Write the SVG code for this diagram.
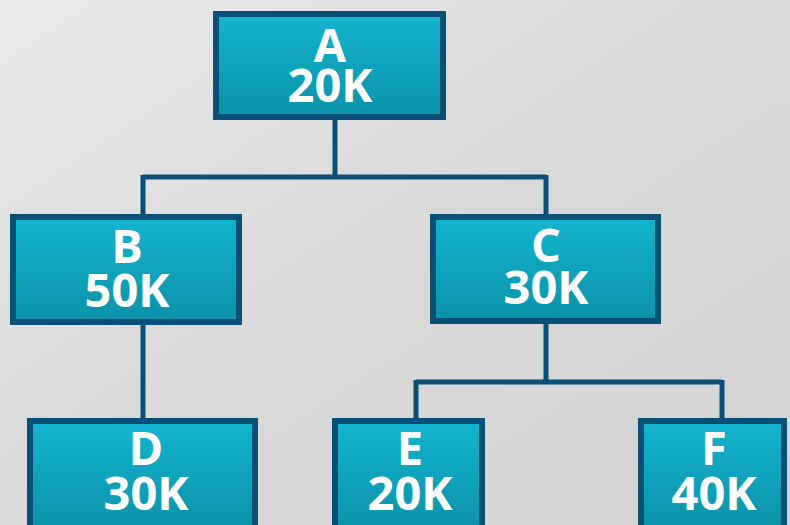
<svg xmlns="http://www.w3.org/2000/svg" width="790" height="525" viewBox="0 0 790 525">
<defs>
<linearGradient id="bg" x1="0" y1="0" x2="1" y2="1">
<stop offset="0" stop-color="#e9e9e9"/>
<stop offset="0.5" stop-color="#d9d9d9"/>
<stop offset="1" stop-color="#d4d4d4"/>
</linearGradient>
<linearGradient id="nf" x1="0" y1="0" x2="0" y2="1">
<stop offset="0" stop-color="#14b4cf"/>
<stop offset="1" stop-color="#0a92a8"/>
</linearGradient>
</defs>
<style>
.n{fill:url(#nf);stroke:#0a5076;stroke-width:6}
.t{fill:#fff;font-family:"Open Sans","DejaVu Sans",sans-serif;font-weight:bold;font-size:47px;text-anchor:middle}
.c{fill:none;stroke:#0a5076;stroke-width:5}
</style>
<rect width="790" height="525" fill="url(#bg)"/>
<g id="connectors">
<path class="c" d="M335 119V177M143 177H546M143 175V214M546 175V214"/>
<path class="c" d="M143 325V418"/>
<path class="c" d="M546 323V382M416 382H722M416 380V418M722 380V418"/>
</g>
<g id="A"><rect class="n" x="216" y="14" width="227" height="103"/><text class="t" x="330" y="62">A<tspan x="330" dy="40">20K</tspan></text></g>
<g id="B"><rect class="n" x="13" y="217" width="226" height="105"/><text class="t" x="127" y="263">B<tspan x="127" dy="44">50K</tspan></text></g>
<g id="C"><rect class="n" x="433" y="217" width="225" height="104"/><text class="t" x="546" y="262">C<tspan x="546" dy="42">30K</tspan></text></g>
<g id="D"><rect class="n" x="30" y="421" width="225" height="110"/><text class="t" x="146" y="465">D<tspan x="146" dy="45">30K</tspan></text></g>
<g id="E"><rect class="n" x="335" y="421" width="147" height="110"/><text class="t" x="410" y="465">E<tspan x="410" dy="45">20K</tspan></text></g>
<g id="F"><rect class="n" x="641" y="421" width="143" height="110"/><text class="t" x="714" y="465">F<tspan x="714" dy="45">40K</tspan></text></g>
</svg>
